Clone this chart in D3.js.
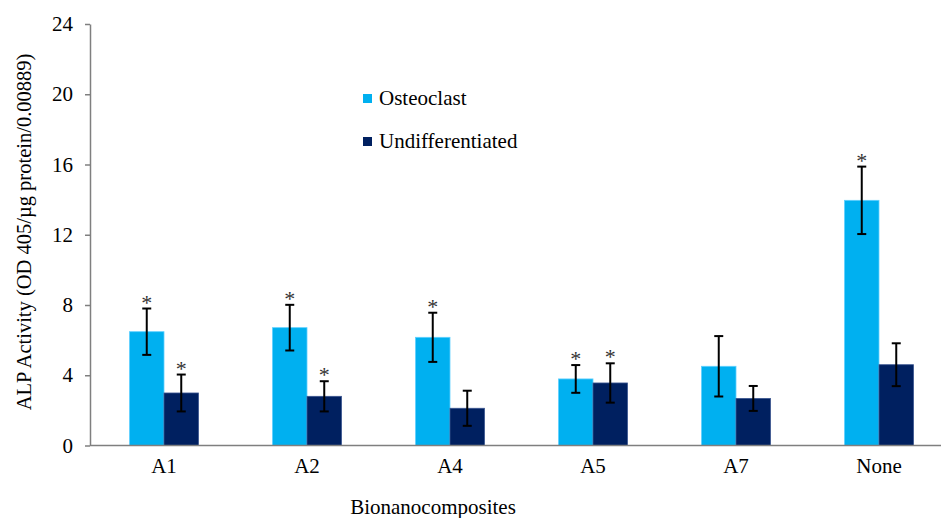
<!DOCTYPE html>
<html>
<head>
<meta charset="utf-8">
<script src="https://cdn.jsdelivr.net/npm/d3@7"></script>
<style>
  body { margin: 0; background: #fff; }
  svg text { font-family: "Liberation Serif", "Times New Roman", serif; }
</style>
</head>
<body>
<svg id="chart" width="941" height="518"></svg>
<script>
// data
var categories = ["A1", "A2", "A4", "A5", "A7", "None"];
var seriesNames = ["Osteoclast", "Undifferentiated"];
var osteoclast = [6.48, 6.71, 6.16, 3.79, 4.51, 13.96];
var osteoclastErr = [1.32, 1.3, 1.4, 0.79, 1.72, 1.92];
var undiff = [2.99, 2.8, 2.12, 3.56, 2.68, 4.6];
var undiffErr = [1.05, 0.86, 1.0, 1.12, 0.71, 1.22];
var osteoclastStar = [true, true, true, true, false, true];
var undiffStar = [true, true, false, true, false, false];
var yTicks = [0, 4, 8, 12, 16, 20, 24];
var colors = ["#00b0f0", "#002060"];

var svg = d3.select("#chart");
var plotLeft = 90, plotTop = 24, plotBottom = 445.5;

var x = d3.scaleBand().domain(categories).range([92.5, 950.5]);
var inner = d3.scaleBand().domain(seriesNames).range([0, 69]);
var groupOffset = (x.bandwidth() - 69) / 2;
var y = d3.scaleLinear().domain([0, 24]).range([plotBottom, plotTop]);

// build rows
var rows = [];
categories.forEach(function(c, i) {
  rows.push({cat: c, s: seriesNames[0], v: osteoclast[i], e: osteoclastErr[i], star: osteoclastStar[i], col: colors[0], edge: "#5fd0ff"});
  rows.push({cat: c, s: seriesNames[1], v: undiff[i], e: undiffErr[i], star: undiffStar[i], col: colors[1], edge: "#3a5590"});
});
var cx = function(d) { return x(d.cat) + groupOffset + inner(d.s) + inner.bandwidth() / 2; };

// bars
svg.append("g").selectAll("rect").data(rows).enter().append("rect")
  .attr("x", function(d) { return x(d.cat) + groupOffset + inner(d.s); })
  .attr("y", function(d) { return y(d.v); })
  .attr("width", inner.bandwidth())
  .attr("height", function(d) { return y(0) - y(d.v); })
  .attr("fill", function(d) { return d.col; })
  .attr("stroke", function(d) { return d.edge; })
  .attr("stroke-width", 0.8);

// axes
var yAxis = d3.axisLeft(y).tickValues(yTicks).tickSize(5).tickPadding(12).tickSizeOuter(0);
var gy = svg.append("g").attr("transform", "translate(" + plotLeft + ",0)").call(yAxis);
gy.select(".domain").attr("stroke", "#7f7f7f").attr("stroke-width", 1.5);
gy.selectAll(".tick line").attr("stroke", "#7f7f7f").attr("stroke-width", 1.5);
gy.selectAll(".tick text").attr("font-size", 21).attr("fill", "#000");

svg.append("line")
  .attr("x1", plotLeft).attr("x2", 941)
  .attr("y1", y(0)).attr("y2", y(0))
  .attr("stroke", "#7f7f7f").attr("stroke-width", 1.5);

var xAxis = d3.axisBottom(x).tickSize(0).tickPadding(13);
var gx = svg.append("g").attr("transform", "translate(0," + y(0) + ")").call(xAxis);
gx.select(".domain").remove();
gx.selectAll(".tick text").attr("font-size", 21).attr("fill", "#000");

// error bars
var eb = svg.append("g").selectAll("g").data(rows).enter().append("g")
  .attr("stroke", "#000").attr("stroke-width", 2);
eb.append("line")
  .attr("x1", cx).attr("x2", cx)
  .attr("y1", function(d) { return y(d.v + d.e); })
  .attr("y2", function(d) { return y(d.v - d.e); });
eb.append("line")
  .attr("x1", function(d) { return cx(d) - 4.5; }).attr("x2", function(d) { return cx(d) + 4.5; })
  .attr("y1", function(d) { return y(d.v + d.e); }).attr("y2", function(d) { return y(d.v + d.e); });
eb.append("line")
  .attr("x1", function(d) { return cx(d) - 4.5; }).attr("x2", function(d) { return cx(d) + 4.5; })
  .attr("y1", function(d) { return y(d.v - d.e); }).attr("y2", function(d) { return y(d.v - d.e); });

// significance stars
svg.append("g").selectAll("text").data(rows.filter(function(d) { return d.star; })).enter().append("text")
  .attr("x", cx)
  .attr("y", function(d) { return y(d.v + d.e) + 1; })
  .attr("text-anchor", "middle")
  .attr("font-size", 22)
  .attr("fill", "#333")
  .text("*");

// legend
var lg = svg.append("g").selectAll("g").data(seriesNames).enter().append("g")
  .attr("transform", function(d, i) { return "translate(363," + (94 + i * 43) + ")"; });
lg.append("rect").attr("width", 9).attr("height", 9)
  .attr("fill", function(d, i) { return colors[i]; });
lg.append("text").attr("x", 16).attr("y", 11)
  .attr("font-size", 21).attr("fill", "#000")
  .text(function(d) { return d; });

// axis titles
svg.append("text")
  .attr("x", 433).attr("y", 514)
  .attr("text-anchor", "middle").attr("font-size", 21)
  .text("Bionanocomposites");

svg.append("text")
  .attr("transform", "translate(31,232) rotate(-90)")
  .attr("text-anchor", "middle").attr("font-size", 20.5)
  .text("ALP Activity (OD 405/µg protein/0.00889)");
</script>
</body>
</html>
